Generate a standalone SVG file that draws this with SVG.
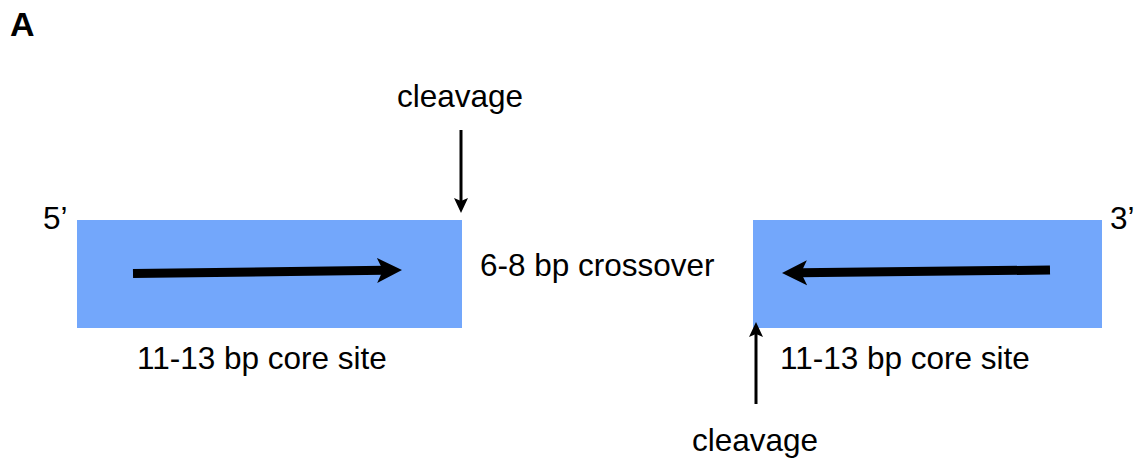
<svg xmlns="http://www.w3.org/2000/svg" width="1140" height="465" viewBox="0 0 1140 465">
  <style>
    text { font-family: "Liberation Sans", Arial, sans-serif; font-size: 31.5px; fill: #000; }
    text.panel { font-weight: bold; font-size: 34px; }
    .site { fill: #73a7fb; }
    .strand { stroke: #000; stroke-width: 9; fill: none; }
    .cut { stroke: #000; stroke-width: 3; fill: none; }
  </style>
  <defs>
    <!-- heads are anchored at their notch so the shaft ends inside them -->
    <marker id="head-big" markerUnits="userSpaceOnUse" markerWidth="30" markerHeight="30" refX="7" refY="12.5" orient="auto" viewBox="0 0 30 25">
      <path d="M0,0 L25,12.5 L0,25 L6,12.5 Z" fill="#000"/>
    </marker>
    <marker id="head-small" markerUnits="userSpaceOnUse" markerWidth="16" markerHeight="16" refX="4" refY="7" orient="auto" viewBox="0 0 16 14">
      <path d="M0,0 L15,7 L0,14 L3,7 Z" fill="#000"/>
    </marker>
  </defs>

  <text class="panel" x="10" y="36">A</text>

  <g id="left-site">
    <rect class="site" x="77" y="220" width="385" height="108"/>
    <text x="43" y="229">5’</text>
    <text x="137" y="369">11-13 bp core site</text>
  </g>

  <g id="crossover">
    <text x="480" y="276">6-8 bp crossover</text>
  </g>

  <g id="right-site">
    <rect class="site" x="753" y="220" width="349" height="108"/>
    <text x="1110" y="229">3’</text>
    <text x="780" y="369">11-13 bp core site</text>
  </g>

  <g id="cleavage-top">
    <text x="397" y="107">cleavage</text>
  </g>

  <g id="cleavage-bottom">
    <text x="692" y="451">cleavage</text>
  </g>

  <g id="connectors">
    <line class="strand" x1="133" y1="273.5" x2="384" y2="270.3" marker-end="url(#head-big)"/>
    <line class="strand" x1="1050" y1="270" x2="800" y2="272.8" marker-end="url(#head-big)"/>
    <line class="cut" x1="461" y1="130" x2="461" y2="202" marker-end="url(#head-small)"/>
    <line class="cut" x1="756" y1="404" x2="756" y2="333" marker-end="url(#head-small)"/>
  </g>
</svg>
